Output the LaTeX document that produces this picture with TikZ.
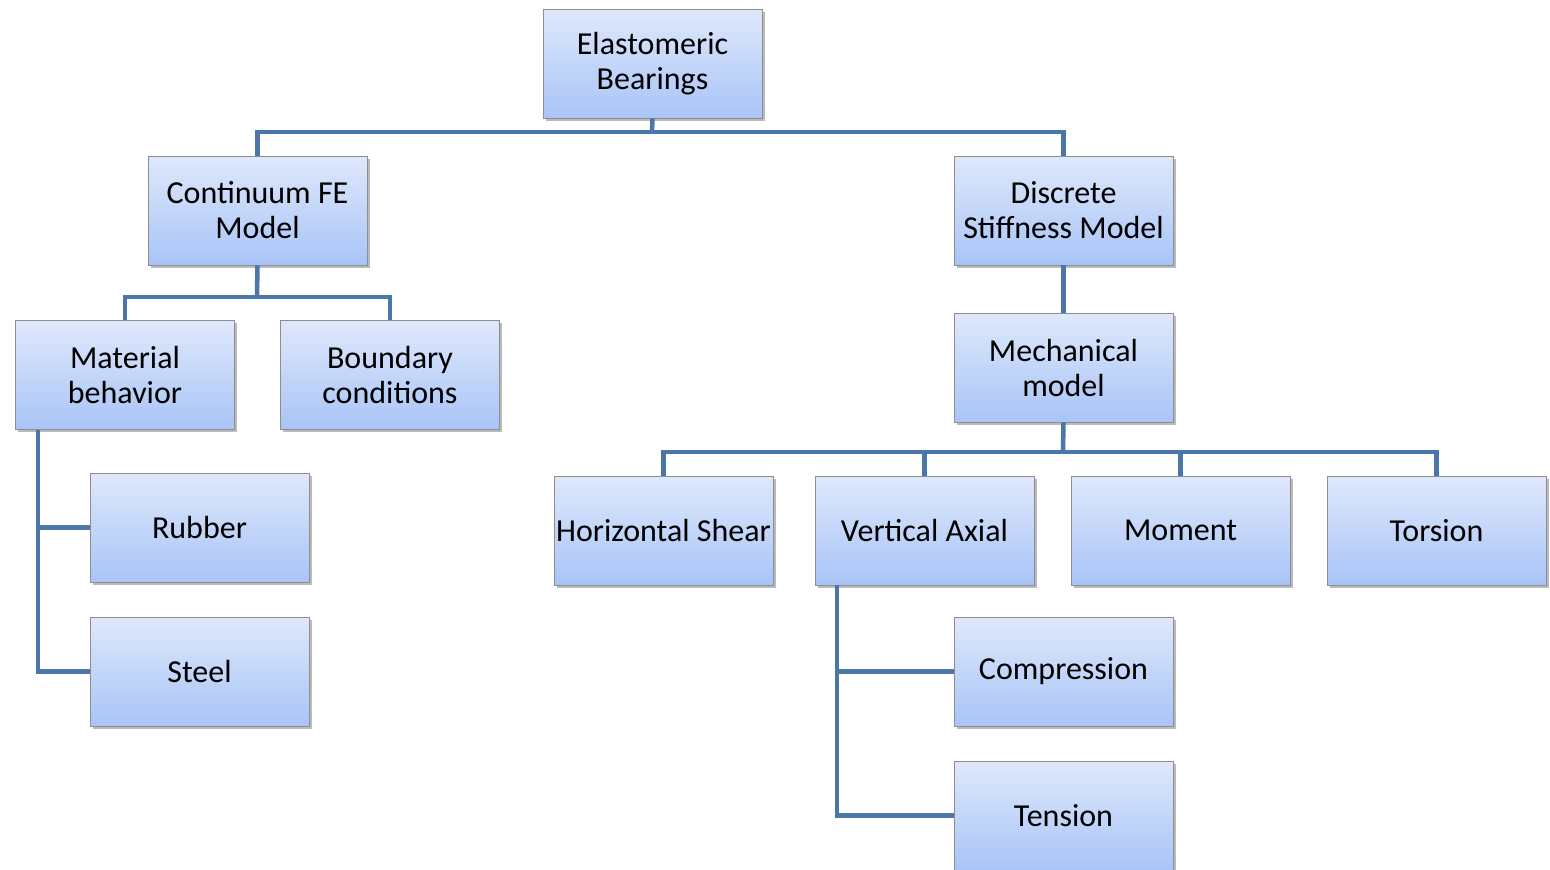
\documentclass[tikz,border=0pt]{standalone}
\usepackage{fontspec}
\setmainfont{Carlito}
\usetikzlibrary{shadows}
\definecolor{linkblue}{HTML}{4A76A8}
\definecolor{boxtop}{HTML}{DFE8FB}
\definecolor{boxbot}{HTML}{A8C4F7}
\definecolor{boxedge}{HTML}{8E8E8E}
\tikzset{
  box/.style={draw=boxedge, line width=0.9pt, top color=boxtop, bottom color=boxbot,
    minimum width=219pt, minimum height=109pt, inner sep=1pt, align=center,
    font=\fontsize{32}{35}\selectfont,
    drop shadow={shadow xshift=2.5pt, shadow yshift=-2.5pt, opacity=0.45, fill=black!60}},
  link/.style={draw=linkblue, line width=4.5pt, line join=miter}
}
\begin{document}
\begin{tikzpicture}[x=1pt, y=-1pt]
\useasboundingbox (0,0) rectangle (1550,870);
\coordinate (b1) at (652,132);
\coordinate (b2) at (257,297);
\coordinate (b3) at (1063,452);
\coordinate (vm) at (38,0);
\coordinate (vv) at (837,0);
\node[box] (root) at (652.5,63.5) {Elastomeric\\Bearings};
\node[box] (cont) at (257.5,210.5) {Continuum FE\\Model};
\node[box] (disc) at (1063.5,210.5) {Discrete\\Stiffness Model};
\node[box] (mat) at (125,375) {Material\\behavior};
\node[box] (bnd) at (390,375) {Boundary\\conditions};
\node[box] (mech) at (1063.5,367.5) {Mechanical\\model};
\node[box] (rub) at (199.5,527.5) {Rubber};
\node[box] (stl) at (199.5,671.5) {Steel};
\node[box] (hs) at (663.5,530.5) {Horizontal Shear};
\node[box] (va) at (924.5,530.5) {Vertical Axial};
\node[box] (mom) at (1180.5,530.5) {Moment};
\node[box] (tor) at (1436.5,530.5) {Torsion};
\node[box] (comp) at (1063.5,671.5) {Compression};
\node[box] (ten) at (1063.5,815.5) {Tension};
\draw[link] (root.south) -- (b1);
\draw[link] (cont.north) -- (cont.north |- b1) -- (disc.north |- b1) -- (disc.north);
\draw[link] (cont.south) -- (b2);
\draw[link] (mat.north) -- (mat.north |- b2) -- (bnd.north |- b2) -- (bnd.north);
\draw[link] (disc.south) -- (mech.north);
\draw[link] (mech.south) -- (b3);
\draw[link] (hs.north) -- (hs.north |- b3) -- (tor.north |- b3) -- (tor.north);
\draw[link] (va.north) -- (va.north |- b3);
\draw[link] (mom.north) -- (mom.north |- b3);
\draw[link] (vm |- mat.south) -- (vm |- stl.west) -- (stl.west);
\draw[link] (vm |- rub.west) -- (rub.west);
\draw[link] (vv |- va.south) -- (vv |- ten.west) -- (ten.west);
\draw[link] (vv |- comp.west) -- (comp.west);
\end{tikzpicture}
\end{document}
